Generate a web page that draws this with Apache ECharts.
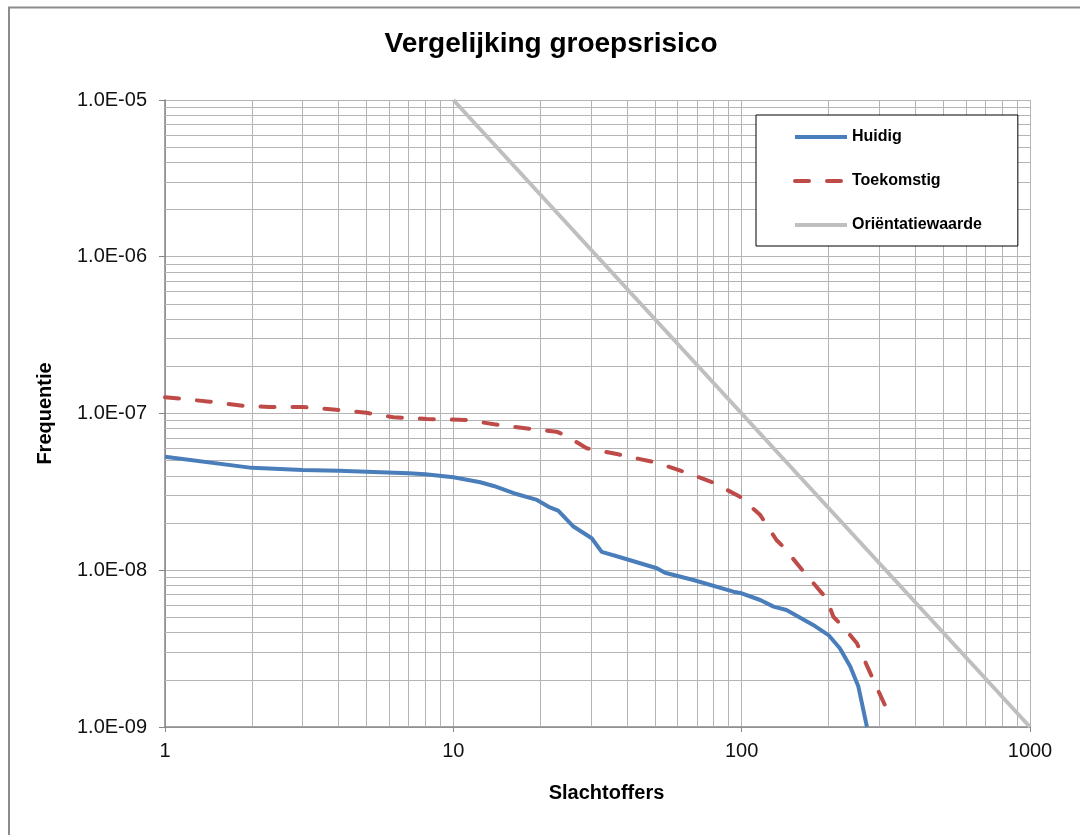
<!DOCTYPE html>
<html>
<head>
<meta charset="utf-8">
<title>Vergelijking groepsrisico</title>
<script src="https://cdn.jsdelivr.net/npm/echarts@6/dist/echarts.min.js"></script>
<style>
  html, body { margin: 0; padding: 0; background: #fff; }
  #chart { width: 1080px; height: 835px; }
</style>
</head>
<body>
<div id="chart"></div>
<script>
// Slachtoffers (N) and frequentie (F) pairs for each FN-curve
const huidig = [
  [1, 5.3e-8], [2, 4.5e-8], [3, 4.36e-8], [4, 4.32e-8], [5, 4.25e-8],
  [7, 4.15e-8], [8, 4.09e-8], [10, 3.92e-8], [12.4, 3.64e-8], [13.8, 3.45e-8],
  [16.2, 3.10e-8], [19.5, 2.81e-8], [21.4, 2.54e-8], [23.1, 2.40e-8], [26.1, 1.90e-8],
  [30.2, 1.60e-8], [32.7, 1.31e-8], [37.9, 1.21e-8], [50.8, 1.03e-8], [54.2, 9.64e-9],
  [68, 8.67e-9], [93.6, 7.30e-9], [100, 7.13e-9], [116, 6.46e-9], [129, 5.86e-9],
  [143, 5.58e-9], [177, 4.48e-9], [200, 3.86e-9], [219, 3.18e-9], [238, 2.43e-9],
  [254, 1.81e-9], [272, 1.0e-9]
];
const toekomstig = [
  [1, 1.27e-7], [1.43, 1.19e-7], [1.87, 1.12e-7], [2.3, 1.10e-7], [3, 1.10e-7],
  [3.84, 1.06e-7], [5, 1.01e-7], [6.2, 9.46e-8], [8.1, 9.23e-8], [11, 9.1e-8],
  [14.5, 8.44e-8], [18.9, 7.93e-8], [22.8, 7.66e-8], [24.7, 7.19e-8], [29, 6.0e-8],
  [36.9, 5.51e-8], [50.8, 4.85e-8], [64.4, 4.19e-8], [79.8, 3.62e-8], [98.7, 2.94e-8],
  [116, 2.25e-8], [132, 1.56e-8], [139.5, 1.41e-8], [164, 9.8e-9], [197, 6.6e-9],
  [208, 5.05e-9], [225, 4.36e-9], [251, 3.42e-9], [286, 2.0e-9], [325, 1.2e-9]
];
const orientatiewaarde = [[10, 1e-5], [100, 1e-7], [1000, 1e-9]];

// Axis ranges (decades)
const xRange = [1, 1000];
const yRange = [1e-9, 1e-5];

// Intermediate log gridlines: 2..9 times each decade start
function minorLines(lo, hi) {
  const out = [];
  for (let d = lo; d < hi * 0.999; d *= 10) {
    for (let m = 2; m <= 9; m++) out.push(m * d);
  }
  return out;
}
const xMinor = minorLines(xRange[0], xRange[1]);
const yMinor = minorLines(yRange[0], yRange[1]);

const FONT = '"Liberation Sans", Arial, sans-serif';
const GRID_COLOR = '#b4b4b4';
const AXIS_COLOR = '#868686';

function sciLabel(v) {
  const s = v.toExponential(1);           // e.g. "1.0e-9"
  const [m, e] = s.split('e');
  const n = parseInt(e, 10);
  const sign = n < 0 ? '-' : '+';
  return m + 'E' + sign + String(Math.abs(n)).padStart(2, '0');
}

// Minor gridline segments spanning the full plot in data space
const minorSegments = xMinor.map(v => ({ coords: [[v, yRange[0]], [v, yRange[1]]] }))
  .concat(yMinor.map(v => ({ coords: [[xRange[0], v], [xRange[1], v]] })));

const chart = echarts.init(document.getElementById('chart'), null, { renderer: 'canvas' });

chart.setOption({
  animation: false,
  backgroundColor: '#ffffff',
  textStyle: { fontFamily: FONT },
  graphic: [{
    type: 'rect',
    shape: { x: 9, y: 7.5, width: 1200, height: 1000 },
    style: { fill: 'none', stroke: '#8c8c8c', lineWidth: 2 },
    silent: true,
    z: -10
  }],
  title: {
    text: 'Vergelijking groepsrisico',
    left: 546,
    textAlign: 'center',
    top: 25,
    textStyle: { fontFamily: FONT, fontSize: 28, fontWeight: 'bold', color: '#000' }
  },
  legend: {
    orient: 'vertical',
    left: 756,
    top: 115,
    padding: [14, 36, 13, 37],
    itemGap: 28,
    itemWidth: 52,
    itemHeight: 14,
    backgroundColor: '#ffffff',
    borderColor: '#000000',
    borderWidth: 1,
    itemStyle: { opacity: 0 },
    lineStyle: { width: 4 },
    textStyle: { fontFamily: FONT, fontSize: 16, fontWeight: 'bold', color: '#000', lineHeight: 16 },
    data: ['Huidig', 'Toekomstig', 'Oriëntatiewaarde']
  },
  grid: { left: 165, top: 100, width: 865, height: 627, containLabel: false },
  xAxis: {
    type: 'log',
    logBase: 10,
    min: xRange[0],
    max: xRange[1],
    splitNumber: 3,
    name: 'Slachtoffers',
    nameLocation: 'middle',
    nameGap: 56,
    nameTextStyle: { fontFamily: FONT, fontSize: 20, fontWeight: 'bold', color: '#000', padding: [0, 0, 0, 18] },
    axisLine: { show: true, lineStyle: { color: AXIS_COLOR, width: 1.5 } },
    axisTick: { show: true, length: 5, lineStyle: { color: AXIS_COLOR } },
    axisLabel: {
      margin: 14,
      fontFamily: FONT, fontSize: 20, color: '#111',
      formatter: v => String(Math.round(v))
    },
    splitLine: { show: true, lineStyle: { color: GRID_COLOR, width: 1 } }
  },
  yAxis: {
    type: 'log',
    logBase: 10,
    min: yRange[0],
    max: yRange[1],
    splitNumber: 4,
    name: 'Frequentie',
    nameLocation: 'middle',
    nameGap: 110,
    nameRotate: 90,
    nameTextStyle: { fontFamily: FONT, fontSize: 20, fontWeight: 'bold', color: '#000' },
    axisLine: { show: true, lineStyle: { color: AXIS_COLOR, width: 1.5 } },
    axisTick: { show: true, length: 6, lineStyle: { color: AXIS_COLOR } },
    axisLabel: {
      margin: 18,
      fontFamily: FONT, fontSize: 20, color: '#111',
      formatter: sciLabel
    },
    splitLine: { show: true, lineStyle: { color: GRID_COLOR, width: 1 } }
  },
  series: [
    {
      name: 'minor-grid',
      type: 'lines',
      coordinateSystem: 'cartesian2d',
      silent: true,
      z: 1,
      lineStyle: { color: GRID_COLOR, width: 1, opacity: 1 },
      data: minorSegments
    },
    {
      name: 'Oriëntatiewaarde',
      type: 'line',
      data: orientatiewaarde,
      z: 3,
      symbol: 'none',
      showSymbol: false,
      lineStyle: { color: '#bfbfbf', width: 4 },
      itemStyle: { color: '#bfbfbf' }
    },
    {
      name: 'Toekomstig',
      type: 'line',
      data: toekomstig,
      z: 4,
      symbol: 'none',
      showSymbol: false,
      lineStyle: { color: '#be4b48', width: 4, type: [14, 18], cap: 'round', join: 'round' },
      itemStyle: { color: '#be4b48' }
    },
    {
      name: 'Huidig',
      type: 'line',
      data: huidig,
      z: 5,
      symbol: 'none',
      showSymbol: false,
      lineStyle: { color: '#4a7ebb', width: 4, join: 'round' },
      itemStyle: { color: '#4a7ebb' }
    }
  ]
});
</script>
</body>
</html>
